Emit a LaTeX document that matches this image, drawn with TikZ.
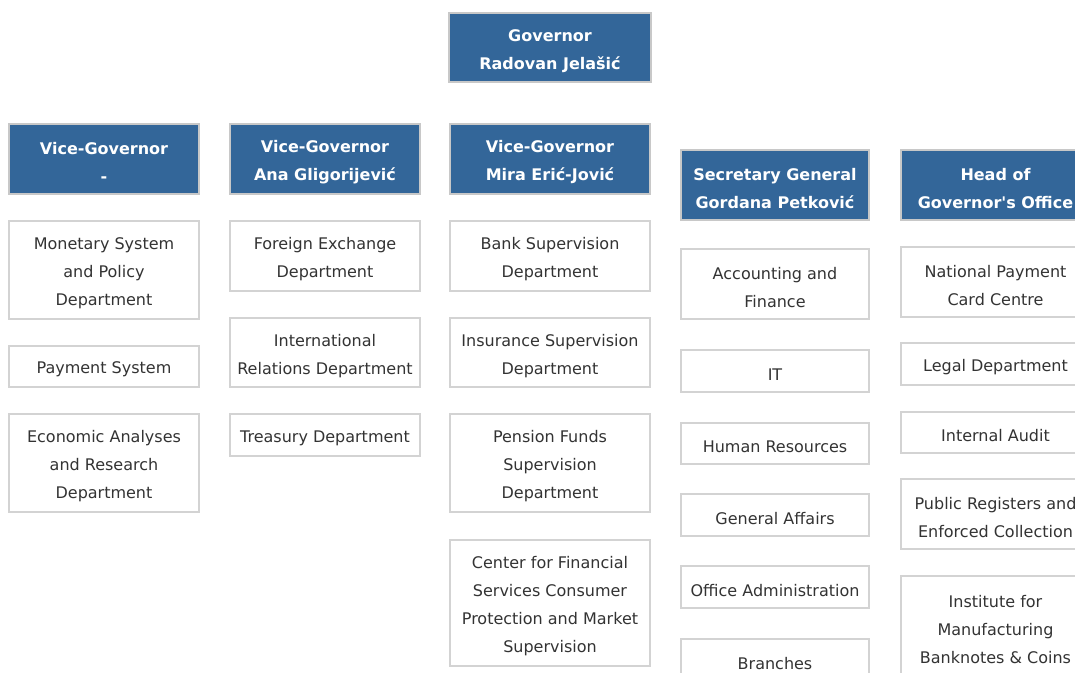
\documentclass[tikz,border=0pt]{standalone}
\usepackage{fontspec}
\setmainfont{DejaVu Sans}
\definecolor{hdblue}{HTML}{336699}
\definecolor{hdedge}{HTML}{C8C8C8}
\definecolor{bxedge}{HTML}{D3D3D3}
\definecolor{txt}{HTML}{333333}
\tikzset{
  base/.style={rectangle, inner sep=0pt, outer sep=0pt, line width=1.1pt},
  head/.style={base, fill=hdblue, draw=hdedge},
  dept/.style={base, fill=white, draw=bxedge},
  headtext/.style={inner sep=0pt, align=center, text=white, font=\fontsize{12}{21}\selectfont\bfseries},
  depttext/.style={inner sep=0pt, align=center, text=txt, font=\fontsize{12}{21}\selectfont},
}
\newcommand\orgbox[7]{%
  \pgfmathsetmacro\bw{(#5-#3)*0.75}%
  \pgfmathsetmacro\bh{(#6-#4)*0.75}%
  \node[#1, minimum width=\bw pt, minimum height=\bh pt] (#2) at ({(#3+#5)/2},{(#4+#6)/2}) {};
  \node[#1text] (#2-t) at ([yshift=-2.4pt]#2.center) {#7};}
\begin{document}
\begin{tikzpicture}[x=0.75pt,y=-0.75pt]
\useasboundingbox (0,0) rectangle (1075,672);
\clip (0,0) rectangle (1075,672);
\fill[white] (0,0) rectangle (1075,672);
% top
\orgbox{head}{gov}{449}{13}{651}{82}{Governor\\Radovan Jelašić}
% column 1
\orgbox{head}{vg1}{9}{124}{199}{194}{Vice-Governor\\-}
\orgbox{dept}{c1a}{9}{221}{199}{319}{Monetary System\\and Policy\\Department}
\orgbox{dept}{c1b}{9}{346}{199}{387}{Payment System}
\orgbox{dept}{c1c}{9}{414}{199}{512}{Economic Analyses\\and Research\\Department}
% column 2
\orgbox{head}{vg2}{230}{124}{420}{194}{Vice-Governor\\Ana Gligorijević}
\orgbox{dept}{c2a}{230}{221}{420}{291}{Foreign Exchange\\Department}
\orgbox{dept}{c2b}{230}{318}{420}{387}{International\\Relations Department}
\orgbox{dept}{c2c}{230}{414}{420}{456}{Treasury Department}
% column 3
\orgbox{head}{vg3}{450}{124}{650}{194}{Vice-Governor\\Mira Erić-Jović}
\orgbox{dept}{c3a}{450}{221}{650}{291}{Bank Supervision\\Department}
\orgbox{dept}{c3b}{450}{318}{650}{387}{Insurance Supervision\\Department}
\orgbox{dept}{c3c}{450}{414}{650}{512}{Pension Funds\\Supervision\\Department}
\orgbox{dept}{c3d}{450}{540}{650}{666}{Center for Financial\\Services Consumer\\Protection and Market\\Supervision}
% column 4
\orgbox{head}{sg}{681}{150}{869}{220}{Secretary General\\Gordana Petković}
\orgbox{dept}{c4a}{681}{249}{869}{319}{Accounting and\\Finance}
\orgbox{dept}{c4b}{681}{350}{869}{392}{IT}
\orgbox{dept}{c4c}{681}{423}{869}{464}{Human Resources}
\orgbox{dept}{c4d}{681}{494}{869}{536}{General Affairs}
\orgbox{dept}{c4e}{681}{566}{869}{608}{Office Administration}
\orgbox{dept}{c4f}{681}{639}{869}{681}{Branches}
% column 5
\orgbox{head}{hgo}{901}{150}{1090}{220}{Head of\\Governor\textquotesingle s Office}
\orgbox{dept}{c5a}{901}{247}{1090}{317}{National Payment\\Card Centre}
\orgbox{dept}{c5b}{901}{343}{1090}{385}{Legal Department}
\orgbox{dept}{c5c}{901}{412}{1090}{453}{Internal Audit}
\orgbox{dept}{c5d}{901}{479}{1090}{549}{Public Registers and\\Enforced Collection}
\orgbox{dept}{c5e}{901}{576}{1090}{676}{Institute for\\Manufacturing\\Banknotes \& Coins}
\end{tikzpicture}
\end{document}
